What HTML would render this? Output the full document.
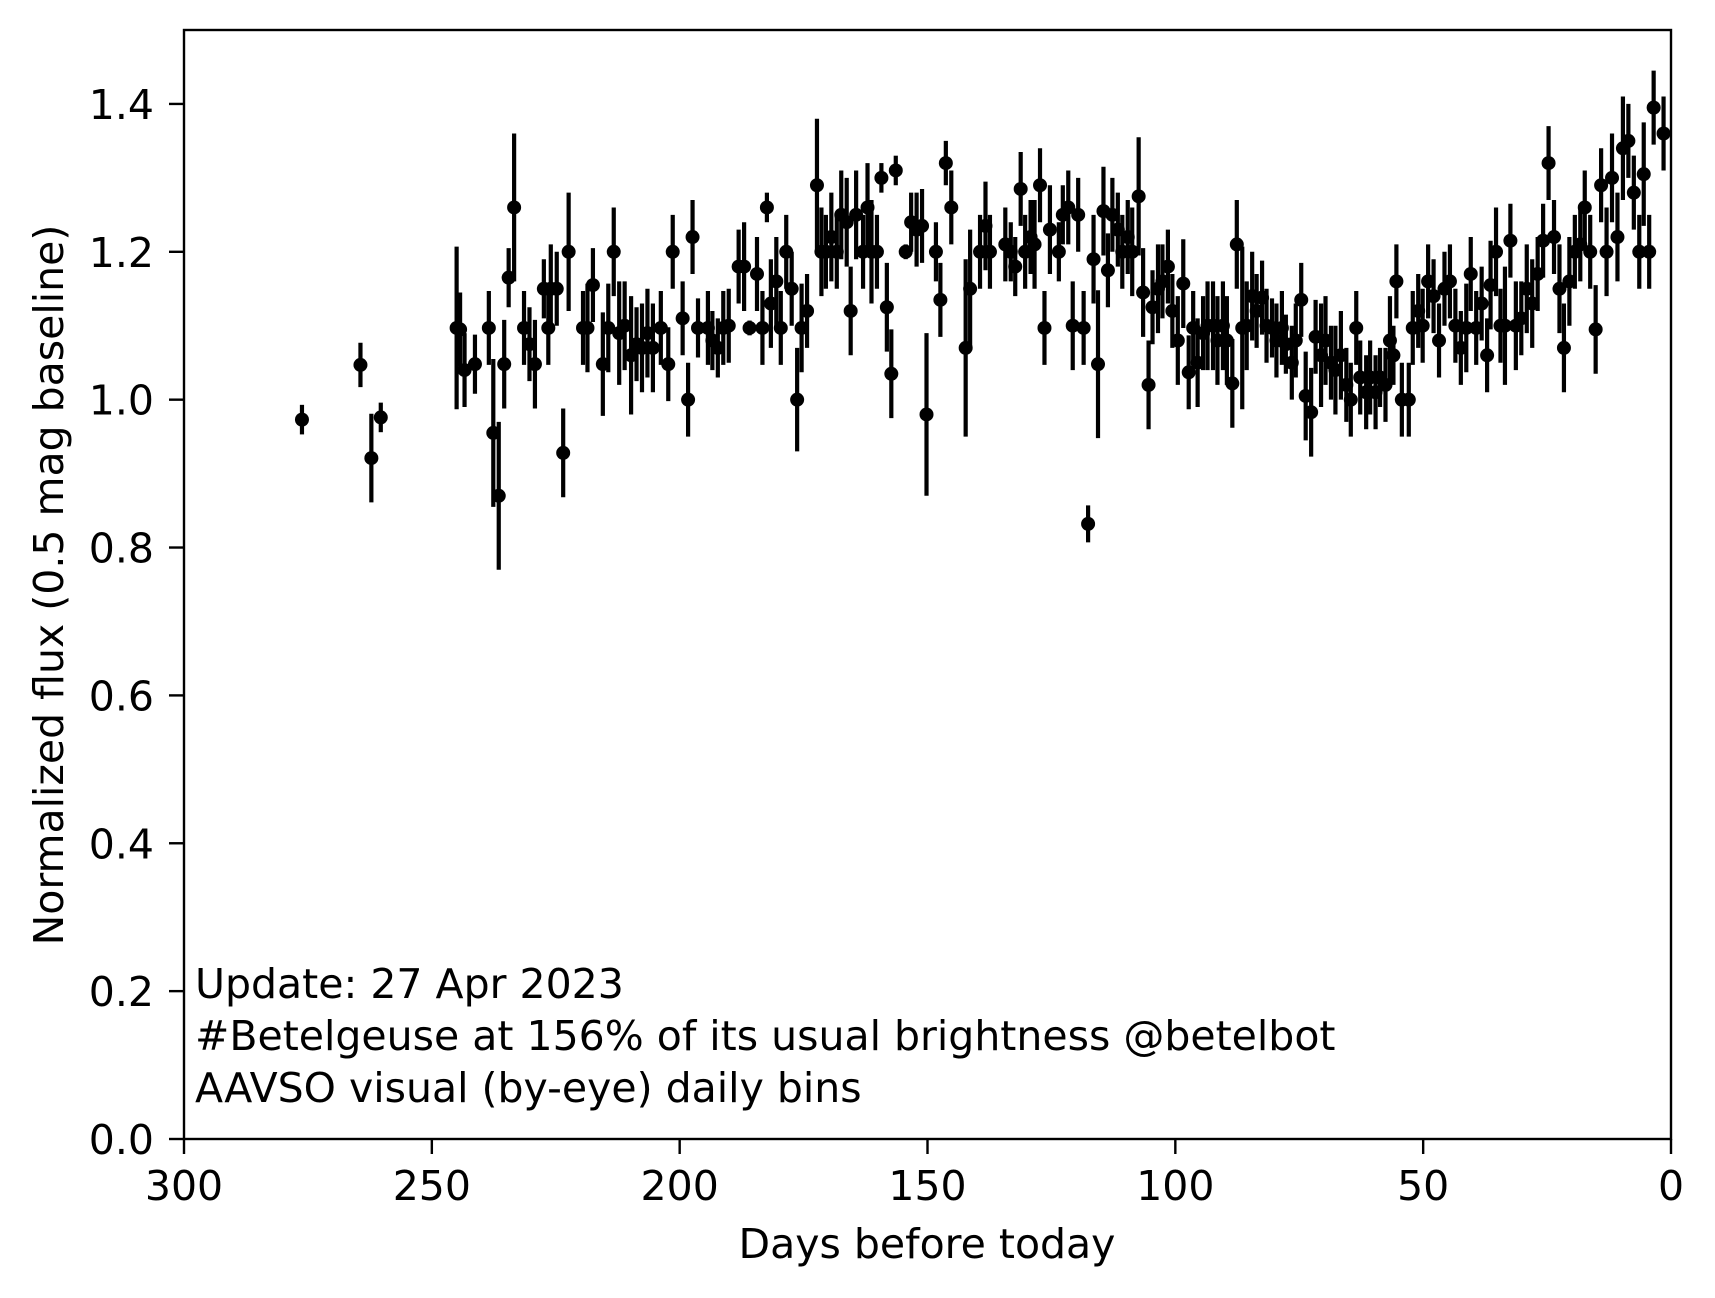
<!DOCTYPE html>
<html><head><meta charset="utf-8"><style>
html,body{margin:0;padding:0;background:#fff}
svg{display:block;font-family:"DejaVu Sans","Liberation Sans",sans-serif}
</style></head><body>
<svg id="chart" width="1715" height="1298" viewBox="0 0 1715 1298" xmlns="http://www.w3.org/2000/svg">
<rect width="1715" height="1298" fill="#fff"/>
<g id="marks"></g>
<g id="axes"></g>
<text x="195" y="998" font-size="41">Update: 27 Apr 2023</text>
<text x="195" y="1050" font-size="41">#Betelgeuse at 156% of its usual brightness @betelbot</text>
<text x="195" y="1102" font-size="41">AAVSO visual (by-eye) daily bins</text>
<text x="927" y="1258" font-size="41" text-anchor="middle">Days before today</text>
<text transform="translate(63,585) rotate(-90)" font-size="41" text-anchor="middle">Normalized flux (0.5 mag baseline)</text>
</svg>
<script>
const days = [276.2,264.4,262.2,260.3,245,244.3,243.4,241.3,238.5,237.6,236.5,235.4,234.5,233.4,231.4,230.3,229.2,227.4,226.5,226,224.8,223.5,222.4,219.5,218.6,217.5,215.5,214.4,213.3,212.2,211.1,209.8,208.7,207.6,206.5,205.4,203.8,202.3,201.4,199.4,198.3,197.4,196.3,194.3,193.4,192.3,191.2,190.1,188.1,187,185.9,184.4,183.3,182.4,181.6,180.5,179.6,178.5,177.4,176.3,175.4,174.3,172.3,171.4,170.5,169.4,168.3,167.4,166.3,165.5,164.4,163,162.1,161.3,160.2,159.3,158.2,157.3,156.4,154.4,153.3,152.2,151.1,150.2,148.3,147.4,146.3,145.2,142.3,141.4,139.4,138.3,137.4,134.3,133.2,132.3,131.2,130.3,129.2,128.4,127.3,126.4,125.3,123.5,122.7,121.6,120.7,119.6,118.5,117.6,116.5,115.6,114.5,113.6,112.7,111.6,110.7,109.6,108.7,107.4,106.5,105.4,104.6,103.5,102.6,101.5,100.6,99.5,98.4,97.3,96.4,95.5,94.4,93.5,92.4,91.5,90.4,89.6,88.5,87.6,86.5,85.6,84.5,83.6,82.5,81.6,80.5,79.6,78.5,77.7,76.5,75.7,74.6,73.7,72.6,71.7,70.6,69.7,68.6,67.7,66.6,65.5,64.6,63.5,62.7,61.5,60.7,59.6,58.7,57.6,56.7,56,55.4,54.3,52.9,52.1,51,50.1,49,47.9,46.8,45.7,44.6,43.5,42.4,41.3,40.4,39.3,38.2,37.1,36.4,35.3,34.4,33.5,32.4,31.3,30.2,29.1,28,26.9,25.8,24.7,23.6,22.5,21.6,20.5,19.4,18.3,17.4,16.3,15.2,14.1,13,11.9,10.8,9.7,8.6,7.5,6.4,5.5,4.4,3.5,1.5];
const flux = [0.973,1.047,0.921,0.976,1.097,1.095,1.04,1.048,1.097,0.955,0.87,1.048,1.165,1.26,1.097,1.075,1.048,1.15,1.097,1.15,1.15,0.928,1.2,1.097,1.097,1.155,1.048,1.097,1.2,1.09,1.1,1.06,1.075,1.07,1.09,1.07,1.097,1.048,1.2,1.11,1.0,1.22,1.097,1.097,1.08,1.07,1.097,1.1,1.18,1.18,1.097,1.17,1.097,1.26,1.13,1.16,1.097,1.2,1.15,1.0,1.097,1.12,1.29,1.2,1.2,1.22,1.2,1.25,1.24,1.12,1.25,1.2,1.26,1.2,1.2,1.3,1.125,1.035,1.31,1.2,1.24,1.23,1.235,0.98,1.2,1.135,1.32,1.26,1.07,1.15,1.2,1.235,1.2,1.21,1.2,1.18,1.285,1.2,1.22,1.21,1.29,1.097,1.23,1.2,1.25,1.26,1.1,1.25,1.097,0.832,1.19,1.048,1.255,1.175,1.25,1.23,1.2,1.22,1.2,1.275,1.145,1.02,1.125,1.15,1.16,1.18,1.12,1.08,1.157,1.037,1.097,1.05,1.09,1.1,1.1,1.08,1.1,1.08,1.022,1.21,1.097,1.1,1.14,1.12,1.138,1.1,1.097,1.08,1.097,1.075,1.05,1.08,1.135,1.005,0.983,1.085,1.06,1.08,1.05,1.04,1.06,1.02,1.0,1.097,1.03,1.01,1.03,1.01,1.03,1.02,1.08,1.06,1.16,1.0,1.0,1.097,1.12,1.1,1.16,1.14,1.08,1.15,1.16,1.1,1.07,1.097,1.17,1.097,1.13,1.06,1.155,1.2,1.1,1.1,1.215,1.1,1.11,1.15,1.13,1.17,1.215,1.32,1.22,1.15,1.07,1.16,1.2,1.21,1.26,1.2,1.095,1.29,1.2,1.3,1.22,1.34,1.35,1.28,1.2,1.305,1.2,1.395,1.36];
const errs = [0.02,0.03,0.06,0.02,0.11,0.05,0.05,0.04,0.05,0.1,0.1,0.06,0.04,0.1,0.05,0.05,0.06,0.04,0.05,0.06,0.05,0.06,0.08,0.05,0.06,0.05,0.07,0.06,0.06,0.07,0.06,0.08,0.05,0.06,0.06,0.06,0.05,0.05,0.05,0.05,0.05,0.05,0.04,0.05,0.04,0.04,0.05,0.05,0.05,0.06,0.01,0.05,0.05,0.02,0.06,0.06,0.05,0.05,0.05,0.07,0.06,0.05,0.09,0.06,0.05,0.06,0.05,0.06,0.06,0.06,0.06,0.05,0.06,0.07,0.05,0.02,0.06,0.06,0.02,0.01,0.04,0.05,0.05,0.11,0.04,0.05,0.03,0.05,0.12,0.08,0.05,0.06,0.05,0.05,0.04,0.04,0.05,0.05,0.05,0.06,0.05,0.05,0.06,0.04,0.04,0.05,0.06,0.05,0.05,0.025,0.06,0.1,0.06,0.05,0.05,0.05,0.05,0.05,0.06,0.08,0.06,0.06,0.05,0.06,0.05,0.05,0.05,0.06,0.06,0.05,0.05,0.06,0.05,0.06,0.06,0.06,0.06,0.06,0.06,0.06,0.11,0.06,0.06,0.05,0.05,0.05,0.04,0.05,0.05,0.04,0.05,0.05,0.05,0.06,0.06,0.05,0.07,0.06,0.05,0.06,0.06,0.05,0.05,0.05,0.05,0.05,0.05,0.05,0.04,0.05,0.06,0.04,0.05,0.05,0.05,0.05,0.05,0.05,0.05,0.05,0.05,0.05,0.05,0.05,0.05,0.06,0.05,0.05,0.05,0.05,0.06,0.06,0.05,0.08,0.05,0.06,0.05,0.06,0.06,0.05,0.05,0.05,0.05,0.06,0.06,0.06,0.05,0.05,0.05,0.05,0.06,0.05,0.06,0.06,0.06,0.07,0.05,0.05,0.05,0.07,0.05,0.05,0.05,0.07,0.05,0.05];
const xTicks = [300,250,200,150,100,50,0];
const yTicks = [0.0,0.2,0.4,0.6,0.8,1.0,1.2,1.4];
const yTickLabels = ["0.0","0.2","0.4","0.6","0.8","1.0","1.2","1.4"];

const L=184,R=1671,T=30,B=1139;
const xs = d => L + (300 - d) / 300 * (R - L);
const ys = v => B - v / 1.5 * (B - T);
const NS="http://www.w3.org/2000/svg";
const marks=document.getElementById('marks');
const axes=document.getElementById('axes');
function mk(tag,attrs,parent){const e=document.createElementNS(NS,tag);for(const k in attrs)e.setAttribute(k,attrs[k]);parent.appendChild(e);return e;}

for(let i=0;i<days.length;i++){
  const x=xs(days[i]);
  const ln=mk('line',{x1:x,x2:x,y1:ys(flux[i]-errs[i]),y2:ys(flux[i]+errs[i]),stroke:'#000','stroke-width':4.2},marks);
  
  
  const c=mk('circle',{cx:x,cy:ys(flux[i]),r:7,fill:'#000'},marks);
  
  
}
const frame=mk('rect',{x:L,y:T,width:R-L,height:B-T,fill:'none',stroke:'#000','stroke-width':2.4},axes);


xTicks.forEach(t=>{
  const x=xs(t);
  const tk=mk('line',{x1:x,x2:x,y1:B,y2:B+15,stroke:'#000','stroke-width':2.4},axes);
  
  
  const tx=mk('text',{x:x,y:1200,'font-size':41,'text-anchor':'middle'},axes);
  tx.textContent=String(t);
  
  
});
yTicks.forEach((t,i)=>{
  const y=ys(t);
  const tk=mk('line',{x1:L-15,x2:L,y1:y,y2:y,stroke:'#000','stroke-width':2.4},axes);
  
  
  const tx=mk('text',{x:L-30,y:y+15,'font-size':41,'text-anchor':'end'},axes);
  tx.textContent=yTickLabels[i];
  
  
});
</script>
</body></html>
